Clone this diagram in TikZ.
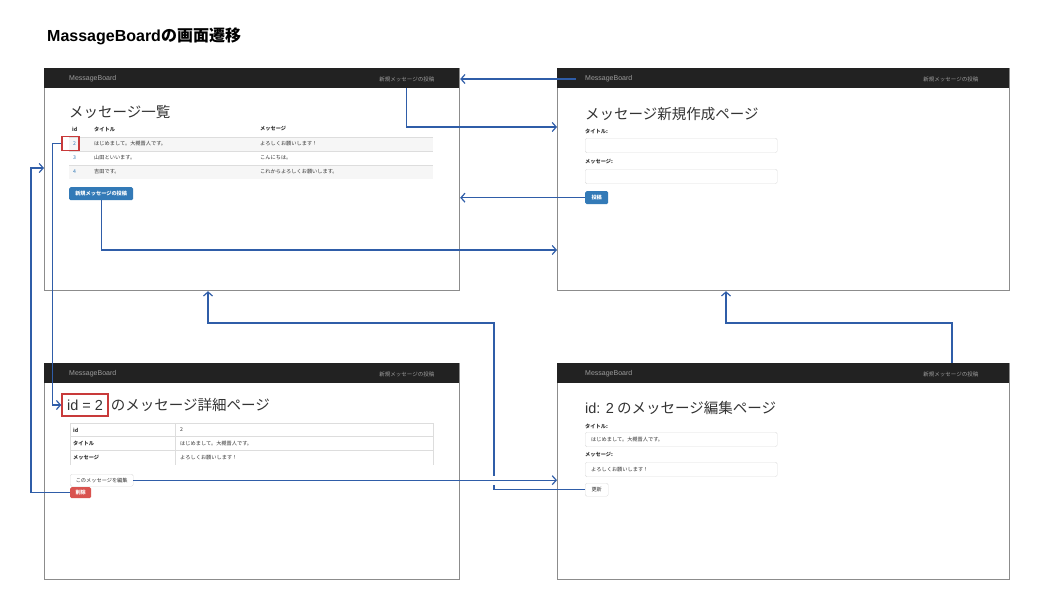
\documentclass[tikz,border=0pt]{standalone}
\usepackage{fontspec}
\setmainfont{Liberation Sans}
\newfontfamily\jp{Noto Sans CJK JP}
\usetikzlibrary{arrows.meta, calc}
\usetikzlibrary{positioning}

\definecolor{navbg}{HTML}{222222}
\definecolor{navtext}{HTML}{9D9D9D}
\definecolor{framegray}{HTML}{8C8C8C}
\definecolor{rowgray}{HTML}{F6F6F6}
\definecolor{cellline}{HTML}{DDDDDD}
\definecolor{btnblue}{HTML}{337AB7}
\definecolor{btnred}{HTML}{D9534F}
\definecolor{markred}{HTML}{C83A3A}
\definecolor{linkblue}{HTML}{2F5DA8}
\definecolor{inktext}{HTML}{333333}

\newcommand{\fsz}[1]{\fontsize{#1}{#1}\selectfont}

\begin{document}
\begin{tikzpicture}[x=1pt, y=-1pt,
    screen/.style={draw=framegray, line width=1.2pt, fill=white, anchor=north west, inner sep=0},
    navbar/.style={fill=navbg, anchor=north west, inner sep=0, minimum height=20pt},
    brand/.style={anchor=west, inner sep=0, text=navtext, font=\fsz{7}},
    navlink/.style={anchor=west, inner sep=0, text=navtext, font=\jp\fsz{5.5}},
    heading/.style={anchor=west, inner sep=0, text=inktext, font=\jp\fsz{14.5}},
    cell/.style={anchor=west, inner sep=0, text=inktext, font=\jp\fsz{5.2}},
    fieldname/.style={anchor=west, inner sep=0, text=inktext, font=\jp\bfseries\fsz{5.2}},
    field/.style={draw=cellline, rounded corners=1.5pt, anchor=north west, text width=180pt, inner xsep=6pt, inner ysep=0, minimum height=14.5pt, text=inktext, font=\jp\fsz{5.2}},
    button/.style={rounded corners=1.5pt, anchor=north west, inner sep=0, font=\jp\bfseries\fsz{5.2}},
    flow/.style={draw=linkblue, line width=1.2pt, -{Straight Barb[length=4pt,width=9pt]}}]

    \useasboundingbox (0,0) rectangle (1047,608);

    % title
    \node[anchor=west, inner sep=0, font=\bfseries\fsz{16}] (title) at (47,36) {MassageBoard{\jp\bfseries の画面遷移}};

    % screens
    \foreach \s/\x/\y/\w/\h/\bx/\px in {list/44/68/415/222/25/81, new/557/68/452/222/28/87, show/44/363/415/216/25/81, edit/557/363/452/216/28/87} {
        \node[screen, minimum width=\w pt, minimum height=\h pt] (\s) at (\x,\y) {};
        \node[navbar, minimum width=\w pt] (nav \s) at (\s.north west) {};
        \node[brand] (brand \s) at ($(\s.north west) + (\bx,11)$) {MessageBoard};
        \node[navlink] (navpost \s) at ($(\s.north east) + (-\px,11)$) {新規メッセージの投稿};
    }

    % list page
    \node[heading] (list head) at (69,112) {メッセージ一覧};
    \fill[rowgray] (69,137) rectangle (433,151);
    \fill[rowgray] (69,165) rectangle (433,179);
    \draw[cellline, line width=1pt] (69,137) -- (433,137);
    \draw[cellline] (69,151) -- (433,151) (69,165) -- (433,165);
    \node[fieldname] (list key id) at (72,129) {id};
    \node[fieldname] (list key title) at (94,129) {タイトル};
    \node[fieldname] (list key msg) at (260,129) {メッセージ};
    \foreach \i/\y/\id/\ttl/\msg in {1/144/2/はじめまして。大槻晋人です。/よろしくお願いします！, 2/158/3/山田といいます。/こんにちは。, 3/172/4/吉田です。/これからよろしくお願いします。} {
        \node[cell, text=btnblue] (list id \i) at (73,\y) {\id};
        \node[cell] (list ttl \i) at (94,\y) {\ttl};
        \node[cell] (list msg \i) at (260,\y) {\msg};
    }
    \node[draw=markred, line width=1.2pt, minimum width=17pt, minimum height=14pt, inner sep=0] (list idbox) at (70.5,143.5) {};
    \node[button, fill=btnblue, text=white, minimum width=64pt, minimum height=13pt] (list post) at (69,187) {新規メッセージの投稿};

    % new page
    \node[heading] (new head) at (585,114) {メッセージ新規作成ページ};
    \node[fieldname] (new key title) at (585,131) {タイトル:};
    \node[field] (new field title) at (585,138) {};
    \node[fieldname] (new key msg) at (585,162) {メッセージ:};
    \node[field] (new field msg) at (585,169) {};
    \node[button, fill=btnblue, text=white, minimum width=23pt, minimum height=13pt] (new submit) at (585,191) {投稿};

    % show page
    \node[draw=markred, line width=1.5pt, minimum width=46pt, minimum height=22pt, inner sep=0, text=inktext, font=\fsz{14.5}] (show idbox) at (85,405) {id = 2};
    \node[heading, right=2pt of show idbox] (show head) {のメッセージ詳細ページ};
    \draw[cellline] (70,465) |- (433,423) -- (433,465);
    \draw[cellline] (70,436.5) -- (433,436.5) (70,450.5) -- (433,450.5) (175,423) -- (175,465);
    \foreach \i/\y/\key/\val in {1/430/id/2, 2/443.5/タイトル/はじめまして。大槻晋人です。, 3/457.5/メッセージ/よろしくお願いします！} {
        \node[fieldname] (show key \i) at (73,\y) {\key};
        \node[cell] (show val \i) at (180,\y) {\val};
    }
    \node[button, draw=cellline, fill=white, text=inktext, font=\jp\fsz{5.2}, minimum width=63pt, minimum height=12pt] (show edit) at (70,474) {このメッセージを編集};
    \node[button, fill=btnred, text=white, minimum width=21pt, minimum height=11pt] (show delete) at (70,487) {削除};

    % edit page
    \node[heading] (edit head) at (585,408) {{\rmfamily id: 2} のメッセージ編集ページ};
    \node[fieldname] (edit key title) at (585,426) {タイトル:};
    \node[field] (edit field title) at (585,432) {はじめまして。大槻晋人です。};
    \node[fieldname] (edit key msg) at (585,455) {メッセージ:};
    \node[field] (edit field msg) at (585,462) {よろしくお願いします！};
    \node[button, draw=cellline, fill=white, text=inktext, font=\jp\fsz{5.2}, minimum width=23pt, minimum height=13pt] (edit update) at (585,483) {更新};

    % transitions
    \draw[flow, shorten <=9pt] (brand new.west) -- (list.east |- brand new.west);
    \draw[flow] (navpost list |- nav list.south) |- (new.west |- 0,127);
    \draw[flow] (new submit.west) -- (list.east |- new submit.west);
    \draw[flow] (list post.south) |- (new.west |- 0,250);
    \draw[flow] (list idbox.west) -- ++(-9,0) |- (show idbox.west);
    \draw[flow] (show delete.west) -- ++(-39,0) |- (list.west |- 0,168);
    \draw[flow] (edit update.west) -| (494,323) -| (list.south -| 208,0);
    \fill[white] (491,476) rectangle (497,485);
    \draw[flow] (show edit.east) -- (edit.west |- show edit.east);
    \draw[flow] (edit.north -| 952,0) |- (726,323) -- (new.south -| 726,0);

\end{tikzpicture}
\end{document}
